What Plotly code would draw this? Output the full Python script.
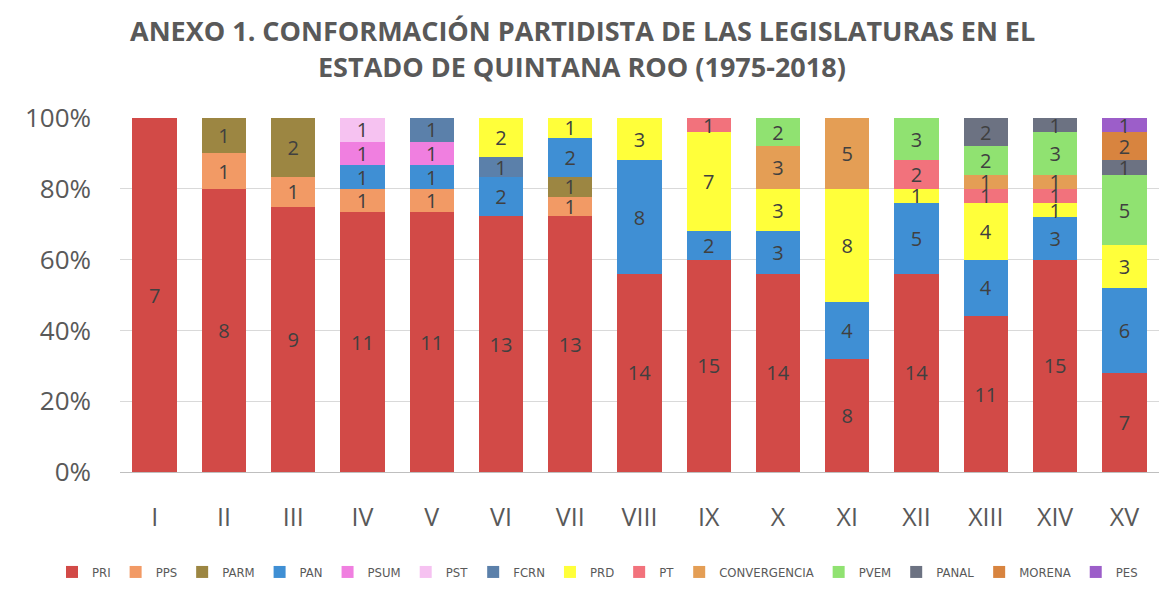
import plotly.graph_objects as go

legislaturas = ["I", "II", "III", "IV", "V", "VI", "VII", "VIII", "IX", "X", "XI", "XII", "XIII", "XIV", "XV"]

PRI = [7, 8, 9, 11, 11, 13, 13, 14, 15, 14, 8, 14, 11, 15, 7]
PPS = [0, 1, 1, 1, 1, 0, 1, 0, 0, 0, 0, 0, 0, 0, 0]
PARM = [0, 1, 2, 0, 0, 0, 1, 0, 0, 0, 0, 0, 0, 0, 0]
PAN = [0, 0, 0, 1, 1, 2, 2, 8, 2, 3, 4, 5, 4, 3, 6]
PSUM = [0, 0, 0, 1, 1, 0, 0, 0, 0, 0, 0, 0, 0, 0, 0]
PST = [0, 0, 0, 1, 0, 0, 0, 0, 0, 0, 0, 0, 0, 0, 0]
FCRN = [0, 0, 0, 0, 1, 1, 0, 0, 0, 0, 0, 0, 0, 0, 0]
PRD = [0, 0, 0, 0, 0, 2, 1, 3, 7, 3, 8, 1, 4, 1, 3]
PT = [0, 0, 0, 0, 0, 0, 0, 0, 1, 0, 0, 2, 1, 1, 0]
CONVERGENCIA = [0, 0, 0, 0, 0, 0, 0, 0, 0, 3, 5, 0, 1, 1, 0]
PVEM = [0, 0, 0, 0, 0, 0, 0, 0, 0, 2, 0, 3, 2, 3, 5]
PANAL = [0, 0, 0, 0, 0, 0, 0, 0, 0, 0, 0, 0, 2, 1, 1]
MORENA = [0, 0, 0, 0, 0, 0, 0, 0, 0, 0, 0, 0, 0, 0, 2]
PES = [0, 0, 0, 0, 0, 0, 0, 0, 0, 0, 0, 0, 0, 0, 1]

title_lines = ["ANEXO 1. CONFORMACIÓN PARTIDISTA DE LAS LEGISLATURAS EN EL",
               "ESTADO DE QUINTANA ROO (1975-2018)"]

partidos = [
    ("PRI", PRI, "#d24a47"),
    ("PPS", PPS, "#f29a65"),
    ("PARM", PARM, "#9c8642"),
    ("PAN", PAN, "#3f8fd4"),
    ("PSUM", PSUM, "#f07fe0"),
    ("PST", PST, "#f6c2f1"),
    ("FCRN", FCRN, "#5b80aa"),
    ("PRD", PRD, "#ffff3a"),
    ("PT", PT, "#f2727c"),
    ("CONVERGENCIA", CONVERGENCIA, "#e49e55"),
    ("PVEM", PVEM, "#90e271"),
    ("PANAL", PANAL, "#6c7282"),
    ("MORENA", MORENA, "#d8843f"),
    ("PES", PES, "#9c5ec9"),
]

FONT = "Open Sans, sans-serif"
NARROW = "DejaVu Sans Condensed, sans-serif"

W, H = 1159, 600
ML, MR, MT, MB = 120, 0, 118, 128
PW, PH = W - ML - MR, H - MT - MB

fig = go.Figure()
for name, vals, color in partidos:
    fig.add_trace(go.Bar(
        name=name,
        x=legislaturas,
        y=[v if v else None for v in vals],
        text=[str(v) if v else "" for v in vals],
        texttemplate="%{text}",
        textposition="inside",
        insidetextanchor="middle",
        textangle=0,
        constraintext="none",
        textfont=dict(size=20, color="#404040", family=FONT),
        marker=dict(color=color, line=dict(width=0)),
    ))

fig.update_layout(
    barmode="stack",
    barnorm="percent",
    bargap=0.36,
    width=W,
    height=H,
    paper_bgcolor="white",
    plot_bgcolor="white",
    margin=dict(l=ML, r=MR, t=MT, b=MB, autoexpand=False),
    annotations=[
        dict(text="<b>%s</b>" % line, x=(582 - ML) / PW, xref="paper", xanchor="center",
             y=1 + (MT - yc) / PH, yref="paper", yanchor="middle",
             showarrow=False, font=dict(size=27, color="#595959", family=FONT))
        for line, yc in zip(title_lines, [30, 66])
    ],
    legend=dict(
        orientation="h", x=(52 - ML) / PW, xanchor="left",
        y=(MT + PH - 572) / PH, yanchor="middle",
        font=dict(size=13, color="#595959", family=NARROW),
        traceorder="normal", itemwidth=30,
    ),
    xaxis=dict(
        tickfont=dict(size=25, color="#595959", family=FONT),
        showline=False, ticks="", showgrid=False, ticklabelstandoff=28,
    ),
    yaxis=dict(
        range=[0, 100], tickvals=[0, 20, 40, 60, 80, 100],
        ticktext=["0%", "20%", "40%", "60%", "80%", "100%"],
        tickfont=dict(size=26, color="#595959", family=FONT),
        showgrid=True, gridcolor="#d9d9d9", gridwidth=1,
        zeroline=True, zerolinecolor="#bfbfbf", zerolinewidth=1,
        showline=False, ticks="", ticklabelstandoff=28,
    ),
    showlegend=True,
)

fig.write_html("out.html")
